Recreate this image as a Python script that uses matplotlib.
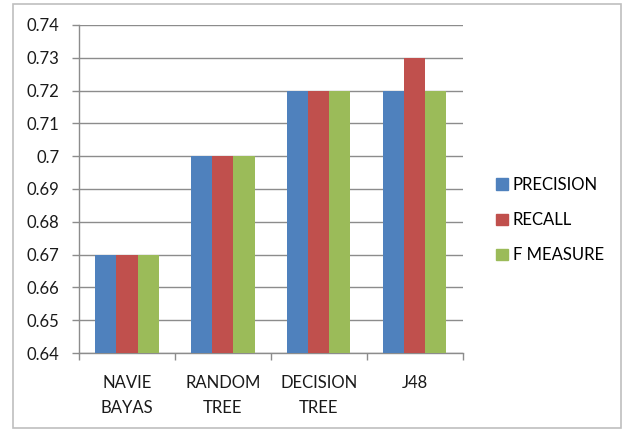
import matplotlib.pyplot as plt
from matplotlib.patches import Rectangle, Patch
import numpy as np

plt.rcParams['font.family'] = ['Lato', 'DejaVu Sans']

categories = ['NAVIE\nBAYAS', 'RANDOM\nTREE', 'DECISION\nTREE', 'J48']
precision = [0.67, 0.70, 0.72, 0.72]
recall = [0.67, 0.70, 0.72, 0.73]
f_measure = [0.67, 0.70, 0.72, 0.72]
series_names = ['PRECISION', 'RECALL', 'F MEASURE']
colors = ['#4F81BD', '#C0504D', '#9BBB59']
yticks = [0.64, 0.65, 0.66, 0.67, 0.68, 0.69, 0.70, 0.71, 0.72, 0.73, 0.74]
ytick_labels = ['0.64', '0.65', '0.66', '0.67', '0.68', '0.69', '0.7', '0.71', '0.72', '0.73', '0.74']

fig = plt.figure(figsize=(6.27, 4.30), dpi=100)
ax = fig.add_axes([0.126, 0.179, 0.612, 0.763])

# outer chart frame
fig.patches.append(Rectangle((13 / 627, 2 / 430), 608 / 627, 424 / 430,
                             transform=fig.transFigure, fill=False,
                             edgecolor='#bfbfbf', linewidth=1.2))

x = np.arange(len(categories))
w = 0.22
for k, vals in enumerate([precision, recall, f_measure]):
    ax.bar(x + (k - 1) * w, vals, width=w, color=colors[k], zorder=3)

ax.set_ylim(0.64, 0.74)
ax.set_xlim(-0.5, len(categories) - 0.5)
ax.set_yticks(yticks)
ax.set_yticklabels(ytick_labels)
ax.yaxis.grid(True, color='#8c8c8c', linewidth=1, zorder=0)

ax.set_xticks(x)
ax.set_xticklabels(categories, linespacing=1.65)
ax.set_xticks(np.arange(-0.5, len(categories)), minor=True)
ax.tick_params(axis='x', which='major', length=0, pad=16)
ax.tick_params(axis='x', which='minor', length=5, color='#8c8c8c', width=1)
ax.tick_params(axis='y', length=5, color='#8c8c8c', width=1, pad=9)
ax.tick_params(labelsize=12, labelcolor='#1a1a1a')

for s in ['top', 'right']:
    ax.spines[s].set_visible(False)
for s in ['left', 'bottom']:
    ax.spines[s].set_color('#8c8c8c')
    ax.spines[s].set_linewidth(1)

handles = [Patch(color=c) for c in colors]
fig.legend(handles, series_names, loc='upper left',
           bbox_to_anchor=(481 / 627, 1 - 162 / 430), frameon=False,
           fontsize=12, handlelength=0.7, handleheight=0.7, handletextpad=0.3,
           labelspacing=1.15)

fig.savefig('out.png', dpi=100)
